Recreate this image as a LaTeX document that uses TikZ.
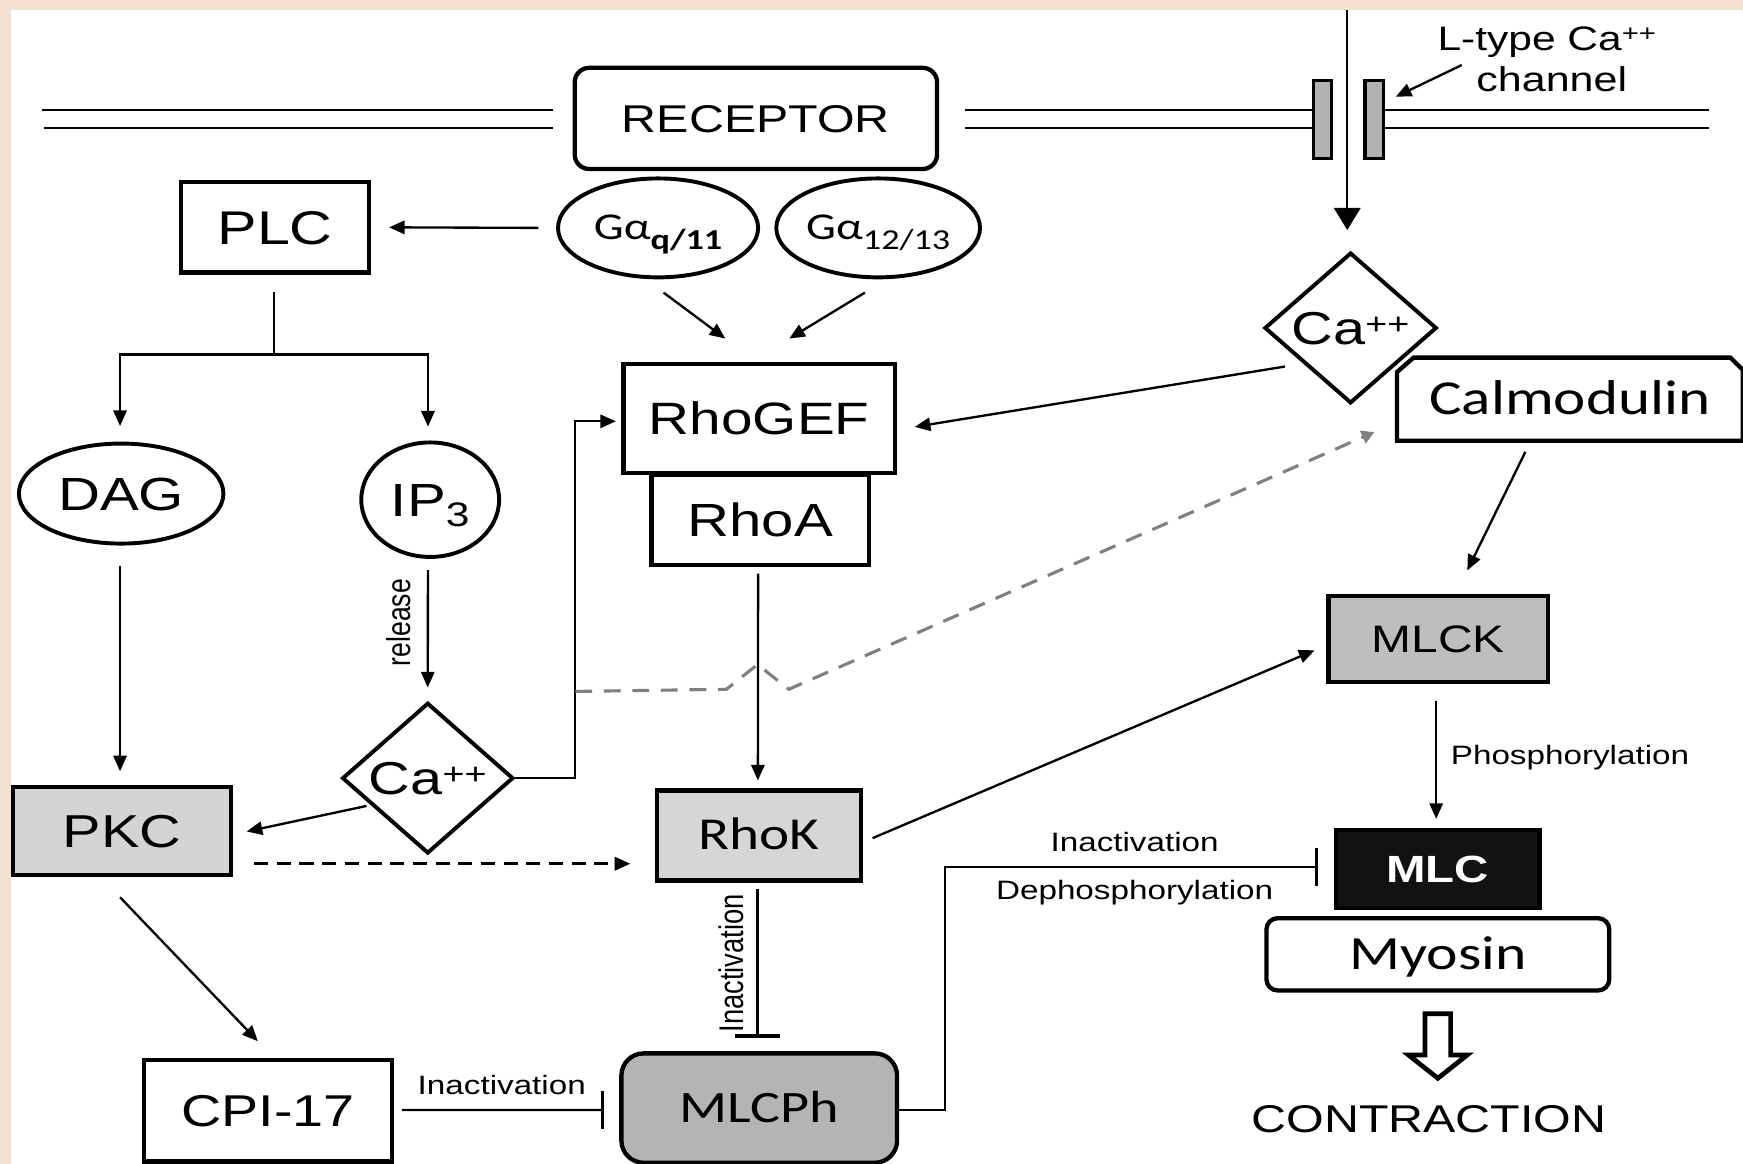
\documentclass[tikz,border=0pt]{standalone}
\usepackage{fontspec}
\setmainfont{Liberation Sans}
\newfontfamily\fA[FakeStretch=1.25]{Liberation Sans}
\newfontfamily\fR{Liberation Sans}
\newfontfamily\fC[FakeStretch=1.25]{Carlito}
\usetikzlibrary{arrows.meta,shapes.geometric,calc}
\newcommand\fsz[1]{\fontsize{#1}{#1}\selectfont}
\definecolor{bgbeige}{RGB}{242,225,209}
\definecolor{dashgray}{RGB}{128,128,128}
\definecolor{pkcgray}{RGB}{212,212,212}
\definecolor{rhokgray}{RGB}{214,214,214}
\definecolor{mlckgray}{RGB}{190,190,190}
\definecolor{mlcphgray}{RGB}{180,180,180}
\definecolor{chgray}{RGB}{178,178,178}
\begin{document}
\begin{tikzpicture}[x=0.01cm,y=-0.01cm,
  sz/.style 2 args={minimum width=#1*0.01cm, minimum height=#2*0.01cm},
  bx/.style={draw, line width=1.1pt, inner sep=0pt, text depth=0pt},
  el/.style={draw, ellipse, line width=1.0pt, inner sep=0pt, text depth=0pt},
  dm/.style={draw, diamond, line width=1.0pt, inner sep=0pt, text depth=0pt},
  conn/.style={line width=0.6pt},
  arr/.style={conn,-{Triangle[length=4pt,width=3.4pt]}},
  inh/.style={conn,-{Bar[width=#1,line width=0.9pt]}},
  lbl/.style={inner sep=0pt, anchor=base},
  memb/.style={line width=0.45pt},
]
\useasboundingbox (0,0) rectangle (1568,1047);
\fill[bgbeige] (0,0) rectangle (1568,1047);
\fill[white] (10.3,9) rectangle (1568,1047);

% membrane
\draw[memb] (37.9,99) -- (497.5,99);
\draw[memb] (39.4,115.4) -- (497.5,115.4);
\draw[memb] (868.5,99) -- (1181.5,99);
\draw[memb] (868.5,115.4) -- (1181.5,115.4);
\draw[memb] (1244.5,99) -- (1537.5,99);
\draw[memb] (1244.5,115.4) -- (1537.5,115.4);

% nodes
\node[bx, rounded corners=0.13cm, sz={326}{91}, font=\fA\fsz{9.9}, text height=7.09pt] (recep) at (680,106.5) {RECEPTOR};
\node[el, sz={180}{89}, font=\fC\fsz{9.7}, text height=6.13pt] (gq) at (592,205) {Gα\raisebox{-2.4pt}{\fsz{7.4}\bfseries q/11}};
\node[el, sz={178}{89}, font=\fC\fsz{9.7}, text height=6.13pt] (g12) at (790,205) {Gα\raisebox{-2.4pt}{\fsz{7.4}12/13}};
\node[bx, sz={169}{81}, font=\fA\fsz{12.1}, text height=8.66pt] (plc) at (247.5,204.5) {PLC};
\node[el, sz={184}{90}, font=\fA\fsz{11.9}, text height=8.52pt] (dag) at (109,444) {DAG};
\node[el, sz={124}{103}, font=\fA\fsz{11.9}, text height=8.52pt] (ip3) at (387,449.5) {IP\raisebox{-2.6pt}{\fsz{8.7}3}};
\node[dm, sz={154}{134}, font=\fA\fsz{11.8}, text height=8.45pt] (ca1) at (384.8,700) {Ca\raisebox{2.6pt}{\fsz{7.7}++}};
\node[bx, fill=pkcgray, sz={196}{79.5}, font=\fA\fsz{11.8}, text height=8.45pt] (pkc) at (110,747.5) {PKC};
\node[bx, sz={196}{81}, font=\fA\fsz{11.9}, text height=8.52pt] (rhoa) at (684,467.5) {RhoA};
\node[bx, fill=white, sz={244}{98}, font=\fA\fsz{11.6}, text height=8.31pt] (rhogef) at (683,376.5) {RhoGEF};
\node[bx, fill=rhokgray, sz={183.6}{81}, font=\fC\fsz{11.7}, text height=7.39pt] (rhok) at (682.8,751.5) {RhoK};
\node[bx, fill=mlcphgray, rounded corners=0.2cm, sz={248}{98.4}, font=\fC\fsz{11.5}, text height=7.27pt] (mlcph) at (683,996.8) {MLCPh};
\node[bx, sz={223.3}{91.4}, font=\fA\fsz{11.4}, text height=8.16pt] (cpi) at (241,999.3) {CPI-17};
\node[dm, sz={155}{133}, font=\fA\fsz{11.8}, text height=8.45pt] (ca2) at (1215,295) {Ca\raisebox{2.6pt}{\fsz{7.7}++}};
\node[inner sep=0pt, text depth=0pt, sz={309.6}{73.4}, font=\fC\fsz{12.5}, text height=7.9pt] (calm) at (1412.2,359.1) {Calmodulin};
\draw[line width=1.1pt, line join=miter] (calm.south west) -- ($(calm.north west)+(0,13)$) -- ($(calm.north west)+(15,0)$) -- ($(calm.north east)+(-11,0)$) -- ($(calm.north east)+(0,11)$) -- (calm.south east) -- cycle;
\node[bx, fill=mlckgray, sz={197.6}{77.5}, font=\fA\fsz{9.8}, text height=7.02pt] (mlck) at (1293.8,574.8) {MLCK};
\node[bx, fill=black!93, text=white, sz={183.2}{70.4}, font=\fA\bfseries\fsz{9.7}, text height=6.95pt] (mlc) at (1293.2,781.8) {MLC};
\node[bx, rounded corners=0.1cm, sz={308.4}{65}, font=\fC\fsz{12.2}, text height=7.71pt] (myosin) at (1293.5,858.5) {Myosin};
\node[draw, fill=chgray, line width=0.9pt, inner sep=0pt, sz={16.3}{69.8}] (chL) at (1189.6,107.5) {};
\node[draw, fill=chgray, line width=0.9pt, inner sep=0pt, sz={16.7}{69.8}] (chR) at (1236.2,107.5) {};

% labels
\node[lbl, font=\fA\fsz{8.7}] (lt1) at (1391.5,45) {L-type Ca\raisebox{2.3pt}{\fsz{6}++}};
\node[lbl, font=\fA\fsz{8.8}] (lt2) at (1396,82.5) {channel};
\node[lbl, font=\fA\fsz{6.8}] (lin1) at (451.4,985) {Inactivation};
\node[lbl, font=\fA\fsz{6.8}] (lin2) at (1020.7,766) {Inactivation};
\node[lbl, font=\fA\fsz{6.8}] (ldeph) at (1020.7,809.6) {Dephosphorylation};
\node[lbl, anchor=base west, font=\fA\fsz{6.8}] (lphos) at (1304.5,688) {Phosphorylation};
\node[lbl, font=\fA\fsz{9.9}] (contr) at (1285.5,1019) {CONTRACTION};
\node[rotate=90, inner sep=0pt, font=\fR\fsz{6.8}] (lrel) at (359,560) {\scalebox{1}[1.25]{release}};
\node[rotate=90, inner sep=0pt, font=\fR\fsz{7}] (lin3) at (657.5,866.6) {\scalebox{1}[1.25]{Inactivation}};

% coordinates
\coordinate (catop) at (1212,9);
\coordinate (ltarr) at (1315,58.5);
\coordinate (split) at (246.5,319);
\coordinate (dstart) at ($(ca1.east)+(54,-78)$);

% connectors
\draw[arr] (ltarr) -- ($(chR.north east)+(9.5,16)$);
\draw[conn,-{Triangle[length=5.7pt,width=6.8pt]}] (catop) -- ($(ca2.north)+(-3,-18.5)$);
\draw[arr] ($(gq.west)+(-16,0)$) -- ($(plc.east)+(16,0)$);
\draw[conn] ($(plc.south)+(-1,15.5)$) -- (split);
\draw[arr] (split) -| ($(dag.north)+(-1,-14)$);
\draw[arr] (split) -| ($(ip3.north)+(-2,-12.5)$);
\draw[arr] ($(dag.south)+(-1,18)$) -- ($(pkc.north)+(-2,-12)$);
\draw[arr] ($(ip3.south)+(-2,10)$) -- ($(ca1.north)+(0,-12)$);
\draw[arr] ($(ca1.center)+(-55,25)$) -- ($(pkc.east)+(12,0.5)$);
\draw[arr] (ca1.east) -- ($(ca1.east)+(54,0)$) |- ($(rhogef.west)+(-5,2.5)$);
\draw[arr] ($(gq.south)+(5,12)$) -- ($(rhogef.north)+(-30.5,-21)$);
\draw[arr] ($(g12.south)+(-12,12)$) -- ($(rhogef.north)+(27,-21)$);
\draw[arr] ($(rhoa.south)+(-2,6)$) -- ($(rhok.north)+(-1,-7)$);
\draw[arr] ($(ca2.center)+(-59,34.7)$) -- ($(rhogef.east)+(16,7.5)$);
\draw[line width=0.8pt, dashgray, dash pattern=on 4.3pt off 3pt, -{Triangle[length=3.2pt,width=3.4pt]}]
  (dstart) -- ($(rhok.north)+(-29.4,-89)$) -- ($(rhok.north)+(-1.3,-111.3)$) -- ($(rhok.north)+(26.8,-89)$) -- ($(calm.south west)+(-20.4,-7.8)$);
\draw[arr] ($(calm.south)+(-40,10)$) -- ($(mlck.north)+(26.2,-21)$);
\draw[arr] ($(rhok.east)+(8.4,2.5)$) -- ($(mlck.west)+(-10.5,10.2)$);
\draw[line width=0.7pt, dash pattern=on 3.6pt off 2.2pt, -{Triangle[length=4pt,width=3.4pt]}] ($(pkc.east)+(18.7,29.5)$) -- ($(rhok.west)+(-22,25.5)$);
\draw[inh=11.7pt] ($(rhok.south)+(-1.3,6)$) -- ($(mlcph.north)+(-1.5,-12)$);
\draw[arr] ($(pkc.south)+(-2,18)$) -- ($(cpi.north)+(-9,-15)$);
\draw[inh=9.8pt] ($(cpi.east)+(7,-0.7)$) -- ($(mlcph.west)+(-13.6,1.8)$);
\draw[inh=9.6pt] ($(mlcph.east)+(0,1.8)$) -- ($(mlcph.east)+(41,1.8)$) |- ($(mlc.west)+(-13.6,-1.8)$);
\draw[arr] ($(mlck.south)+(-1.8,15)$) -- ($(mlc.north)+(-1.2,-8)$);

% hollow arrow
\draw[line width=1.2pt, fill=white, line join=miter] (1282,912) -- (1305,912) -- (1305,949) -- (1320,949) -- (1293.5,970) -- (1267,949) -- (1282,949) -- cycle;
\end{tikzpicture}
\end{document}
